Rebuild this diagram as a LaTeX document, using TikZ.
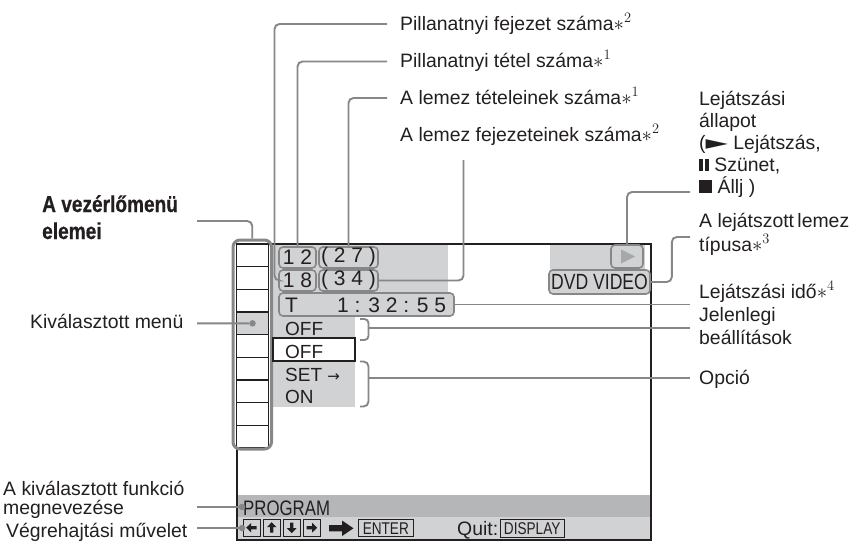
\documentclass[tikz,border=0pt]{standalone}
\usepackage{fontspec}
\usepackage{graphicx}
\setmainfont{Liberation Sans}
\newfontfamily\headfont[FakeStretch=0.83,BoldFeatures={FakeBold=0.6}]{Liberation Sans}
\newfontfamily\condfont[FakeStretch=0.8]{Liberation Sans}
\newfontfamily\symfont{DejaVu Sans}
\definecolor{lgray}{HTML}{D1D2D4}
\definecolor{dgray}{HTML}{B5B6B8}
\definecolor{cgray}{HTML}{878787}
\definecolor{ink}{HTML}{231F20}
\definecolor{tgray}{HTML}{A7A8AA}
\begin{document}
\begin{tikzpicture}[x=1pt,y=-1pt,
  conn/.style={draw=cgray, line width=1.9pt, rounded corners=5pt},
  lbl/.style={anchor=base west, inner sep=0pt, text=ink, font=\fontsize{19.4}{21}\selectfont},
  scr/.style={anchor=base west, inner sep=0pt, text=ink, font=\fontsize{19}{21}\selectfont},
  lcd/.style={anchor=base west, inner sep=0pt, text=ink, font=\fontsize{21}{23}\selectfont},
  numbox/.style={draw=cgray, line width=1.6pt, rounded corners=4pt, fill=lgray, inner sep=0pt},
  cell/.style={draw=ink, line width=1.1pt, fill=white, minimum width=32pt, minimum height=22.67pt, inner sep=0pt},
  keybox/.style={draw=ink, line width=0.9pt, minimum width=16.7pt, minimum height=16.7pt, inner sep=0pt},
  dot/.style={circle, fill=cgray, inner sep=0pt, minimum size=6.5pt},
  karrow/.pic={\fill[ink] (-5.5,0) -- (-0.5,-4.8) -- (-0.5,-1.6) -- (5,-1.6) -- (5,1.6) -- (-0.5,1.6) -- (-0.5,4.8) -- cycle;}
]
\useasboundingbox (0,0) rectangle (853,541);
\fill[white] (0,0) rectangle (853,541);

% screen background areas
\fill[lgray] (273,244) rectangle (448,316);
\fill[lgray] (550,244) rectangle (645,271);
\fill[lgray] (273,316) rectangle (355,338);
\fill[lgray] (273,361) rectangle (355,407);
\fill[dgray] (237,495) rectangle (651,517);
\fill[lgray] (237,517) rectangle (651,540);
\node[draw=ink, line width=2.2pt, minimum width=414pt, minimum height=296pt, inner sep=0pt] (screen) at (444,392) {};

% menu column
\foreach \i in {0,...,8} {
  \node[cell] (m\i) at (252.5,{255.33+22.67*\i}) {};
}
\node[cell, fill=lgray] (m3) at (252.5,{255.33+22.67*3}) {};
\node[draw=cgray, line width=3pt, rounded corners=7pt, minimum width=38.5pt, minimum height=209pt, inner sep=0pt] (menu) at (252.25,344.5) {};
\node[dot] (seldot) at (m3.center) {};

% numbers
\node[numbox, minimum width=37pt, minimum height=21pt, font=\fontsize{21}{23}\selectfont, text=ink] (b12) at (297.5,257.5) {1 2};
\node[numbox, minimum width=59pt, minimum height=21pt, font=\fontsize{21}{23}\selectfont, text=ink] (b27) at (348.5,257.5) {( 2 7 )};
\node[numbox, minimum width=37pt, minimum height=21pt, font=\fontsize{21}{23}\selectfont, text=ink] (b18) at (297.5,280.5) {1 8};
\node[numbox, minimum width=59pt, minimum height=21pt, font=\fontsize{21}{23}\selectfont, text=ink] (b34) at (348.5,280.5) {( 3 4 )};
\node[numbox, minimum width=175pt, minimum height=23pt] (tbox) at (366.5,304.5) {};
\node[lcd] (tT) at (285,312) {T};
\node[lcd] (ttime) at (337,312) {1 : 3 2 : 5 5};

% play and disc type
\node[numbox, minimum width=32pt, minimum height=23pt] (play) at (627,256.5) {};
\fill[tgray] (621,249.5) -- (621,263.5) -- (635,256.5) -- cycle;
\node[numbox, minimum width=101pt, minimum height=24pt, text=ink, font=\condfont\fontsize{22}{24}\selectfont] (dvd) at (599.5,282) {DVD VIDEO};

% options
\node[draw=ink, line width=1.2pt, fill=white, minimum width=82pt, minimum height=23pt, inner sep=0pt] (offsel) at (314,349.5) {};
\node[scr] (o1) at (285,335) {OFF};
\node[scr] (o2) at (285,358) {OFF};
\node[scr] (o3) at (285,381) {SET {\symfont\fontsize{15}{15}\selectfont →}};
\node[scr] (o4) at (285,403) {ON};

% bottom bars
\node[anchor=base west, inner sep=0pt, text=ink, font=\condfont\fontsize{21}{23}\selectfont] (prog) at (243,515) {PROGRAM};
\node[keybox] (k1) at (251.7,527.7) {};
\node[keybox] (k2) at (271.7,527.7) {};
\node[keybox] (k3) at (291.7,527.7) {};
\node[keybox] (k4) at (311.7,527.7) {};
\pic at (k1.center) {karrow};
\pic[rotate=-90] at (k2.center) {karrow};
\pic[rotate=90] at (k3.center) {karrow};
\pic[rotate=180] at (k4.center) {karrow};
\fill[ink] (329,525.2) -- (342,525.2) -- (342,520.5) -- (353.5,528.3) -- (342,536) -- (342,531.4) -- (329,531.4) -- cycle;
\node[keybox, minimum width=55pt, minimum height=17pt, text=ink, font=\condfont\fontsize{17}{17}\selectfont] (enter) at (385.8,528.3) {ENTER};
\node[lbl] (quit) at (457,535) {Quit:};
\node[keybox, minimum width=64.3pt, minimum height=18pt, text=ink, font=\condfont\fontsize{17}{17}\selectfont] (disp) at (532.2,528.3) {DISPLAY};
\node[dot] (dp) at (242,507) {};
\node[dot] (dv) at (242,528) {};

% labels top
\node[lbl] (l1) at (400,30) {Pillanatnyi fejezet száma$\ast^{2}$};
\node[lbl] (l2) at (400,67) {Pillanatnyi tétel száma$\ast^{1}$};
\node[lbl] (l3) at (400,104) {A lemez tételeinek száma$\ast^{1}$};
\node[lbl] (l4) at (400,141) {A lemez fejezeteinek száma$\ast^{2}$};

% labels right
\node[lbl] (r1a) at (699,105) {Lejátszási};
\node[lbl] (r1b) at (699,127) {állapot};
\node[lbl] (r1c) at (699,149) {({\symfont\scalebox{1.5}[1]{►}} Lejátszás,};
\node[lbl] (r1d) at (699,171) {\rule{3.6pt}{12pt}\hspace{2.6pt}\rule{3.6pt}{12pt} Szünet,};
\node[lbl] (r1e) at (699,193) {\rule{13pt}{13pt} Állj )};
\node[lbl] (r2a) at (699,227) {A lejátszott\hspace{-2pt} lemez};
\node[lbl] (r2b) at (699,251) {típusa$\ast^{3}$};
\node[lbl] (r3) at (699,298) {Lejátszási idő$\ast^{4}$};
\node[lbl] (r4a) at (699,321) {Jelenlegi};
\node[lbl] (r4b) at (699,344) {beállítások};
\node[lbl] (r5) at (699,384) {Opció};

% labels left
\node[anchor=base west, inner sep=0pt, text=ink, font=\headfont\bfseries\fontsize{23}{27}\selectfont] (hd1) at (42,212) {A vezérlőmenü};
\node[anchor=base west, inner sep=0pt, text=ink, font=\headfont\bfseries\fontsize{23}{27}\selectfont] (hd2) at (42,239) {elemei};
\node[lbl] (kv) at (30,328) {Kiválasztott menü};
\node[lbl] (fn1) at (3,495) {A kiválasztott funkció};
\node[lbl] (fn2) at (3,514) {megnevezése};
\node[lbl] (vm) at (6,537) {Végrehajtási művelet};

% connector ends
\coordinate (e1) at (387,24);
\coordinate (e2) at (387,61.5);
\coordinate (e3) at (387,98);
\coordinate (e4) at (463.5,160);
\coordinate (c1) at (690,192);
\coordinate (c2) at (690,237);
\coordinate (c3) at (690,304.5);
\coordinate (c4) at (690,328);
\coordinate (c5) at (690,378);
\coordinate (h1) at (197,221);
\coordinate (h2) at (197,323.3);
\coordinate (h3) at (197,507);
\coordinate (h4) at (197,528);

% connectors
\draw[conn] (e1) -- (274.5,24) -- (274.5,280.5) -- (b18.west);
\draw[conn] (e2) -| (b12.north);
\draw[conn] (e3) -| (b27.north);
\draw[conn] (e4) |- (b34.east);
\draw[conn] (c1) -| (play.north);
\draw[conn] (dvd.east) -- ++(21,0) |- (c2);
\draw[conn] (tbox.east) -- (c3);
\draw[conn, rounded corners=4pt] (360,319) -- (368.5,319) -- (368.5,340) -- (360,340);
\draw[conn] (368.5,328) -- (c4);
\draw[conn] (360,361.5) -- (368.5,361.5) -- (368.5,406.5) -- (360,406.5);
\draw[conn] (368.5,378) -- (c5);
\draw[conn] (h1) -| (menu.north);
\draw[conn] (h2) -- (seldot);
\draw[conn] (h3) -- (dp);
\draw[conn] (h4) -- (dv);
\end{tikzpicture}
\end{document}
